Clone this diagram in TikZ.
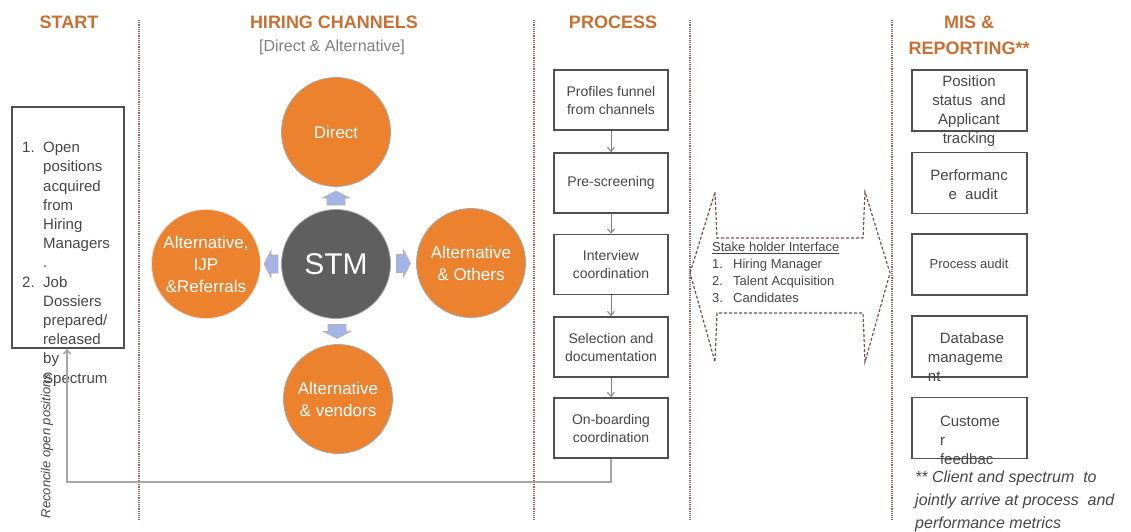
\documentclass[tikz,border=0pt]{standalone}
\usepackage{fontspec}
\setmainfont{Liberation Sans}
\usetikzlibrary{arrows.meta,calc}
\definecolor{titleorange}{RGB}{200,112,52}
\definecolor{chanorange}{RGB}{236,130,45}
\definecolor{stmgray}{RGB}{95,95,95}
\definecolor{boxgray}{RGB}{80,80,80}
\definecolor{txtgray}{RGB}{70,70,70}
\definecolor{sepred}{RGB}{150,100,100}
\definecolor{arrblue}{RGB}{165,180,230}

\begin{document}
\begin{tikzpicture}[x=1pt,y=-1pt,>=latex,
 title/.style={font=\fontsize{18}{21}\selectfont\bfseries,text=titleorange},
 sep/.style={sepred,densely dotted,line width=1.2pt},
 procbox/.style={draw=boxgray,line width=1.8pt,minimum width=114pt,minimum height=60pt,align=center,text=txtgray,font=\fontsize{14}{18}\selectfont},
 misbox/.style={draw=boxgray,line width=1.8pt,minimum width=115pt,minimum height=61pt},
 mistext/.style={align=center,text=txtgray,font=\fontsize{15}{19}\selectfont},
 channel/.style={circle,fill=chanorange,draw=gray!70,line width=0.8pt,minimum size=109pt,inner sep=0pt,align=center,text=white,font=\fontsize{17}{22}\selectfont},
 spoke/.pic={\filldraw[fill=arrblue,draw=gray!60,line width=0.6pt] (-7pt,-9pt) -- (0pt,-9pt) -- (0pt,-13.5pt) -- (7pt,0pt) -- (0pt,13.5pt) -- (0pt,9pt) -- (-7pt,9pt) -- cycle;},
 flow/.style={-{Straight Barb[length=4pt,width=7pt]},gray,line width=1pt},
 stakeline/.style={sepred!80!black,dash pattern=on 3pt off 2pt,line width=1.2pt}]
 \useasboundingbox (0,0) rectangle (1131,532);
 \foreach \sx in {139,534,690,892} \draw[sep] (\sx,20) -- (\sx,520);

 \node[title] (tstart) at (69,22) {START};
 \node[title] (tchan) at (334,22) {HIRING CHANNELS};
 \node[font=\fontsize{16}{18}\selectfont,text=gray] (tchansub) at (332,47) {[Direct \& Alternative]};
 \node[title] (tproc) at (613,22) {PROCESS};
 \node[title,align=center,font=\fontsize{18}{26}\selectfont\bfseries] (tmis) at (969,35) {MIS \&\\REPORTING**};

 \node[draw=boxgray,line width=1.8pt,minimum width=112pt,minimum height=241pt] (startbox) at (68,227.5) {};
 \node[anchor=north west,align=left,inner sep=0pt,text=txtgray,font=\fontsize{15}{19.2}\selectfont] (starttxt) at (22,142) {\makebox[21pt][l]{1.}Open\\ \hspace*{21pt}positions\\ \hspace*{21pt}acquired\\ \hspace*{21pt}from\\ \hspace*{21pt}Hiring\\ \hspace*{21pt}Managers\\ \hspace*{21pt}.\\ \makebox[21pt][l]{2.}Job\\ \hspace*{21pt}Dossiers\\ \hspace*{21pt}prepared/\\ \hspace*{21pt}released\\ \hspace*{21pt}by\\ \hspace*{21pt}Spectrum};
 \node[rotate=90,font=\fontsize{13}{15}\selectfont\itshape,text=txtgray] (reconcile) at (47,446) {Reconcile open positions};

 \node[channel,fill=stmgray,font=\fontsize{30}{32}\selectfont] (stm) at (336,264) {STM};
 \node[channel] (direct) at (336,132) {Direct};
 \node[channel,draw=gray!25] (ijp) at (206,264) {Alternative,\\IJP\\\&Referrals};
 \node[channel] (others) at (471,263) {Alternative\\\& Others};
 \node[channel] (vendors) at (338,399) {Alternative\\\& vendors};
 \pic[rotate=90] at ($(stm)!0.5!(direct)$) {spoke};
 \pic[rotate=180] at ($(stm)!0.5!(ijp)$) {spoke};
 \pic at ($(stm)!0.5!(others)$) {spoke};
 \pic[rotate=-90] at ($(stm)!0.5!(vendors)$) {spoke};

 \node[procbox] (funnel) at (611,100) {Profiles funnel\\from channels};
 \node[procbox] (screen) at (611,183) {Pre-screening};
 \node[procbox] (interview) at (611,264.5) {Interview\\coordination};
 \node[procbox] (selection) at (611,347) {Selection and\\documentation};
 \node[procbox] (onboard) at (611,428) {On-boarding\\coordination};
 \foreach \a/\b in {funnel/screen,screen/interview,interview/selection,selection/onboard}
  \draw[flow] (\a) -- (\b);

 \coordinate (retcorner) at (67,482);
 \draw[gray!70,line width=1.5pt,-{Straight Barb[length=4pt,width=7pt]}] (onboard.south) |- (retcorner) -- (startbox.south -| retcorner);

 \draw[stakeline] (690,273) -- (715,192) -- (717,238) -- (863,238) -- (865,192) -- (890,273) -- (865,362) -- (863,313) -- (717,313) -- (715,362) -- cycle;
 \node[anchor=north west,align=left,inner sep=0pt,text=txtgray,font=\fontsize{13}{17}\selectfont] (staketxt) at (712,242) {\underline{Stake holder Interface}\\ \makebox[21pt][l]{1.}Hiring Manager\\ \makebox[21pt][l]{2.}Talent Acquisition\\ \makebox[21pt][l]{3.}Candidates};

 \node[misbox] (mis1) at (969.5,100.5) {};
 \node[misbox] (mis2) at (969.5,183) {};
 \node[misbox] (mis3) at (969.5,264.5) {};
 \node[misbox] (mis4) at (969.5,346.5) {};
 \node[misbox] (mis5) at (969.5,428) {};
 \node[mistext] (mis1txt) at (969,111) {Position\\status~ and\\Applicant\\tracking};
 \node[mistext] (mis2txt) at (969,185) {Performanc\\~~e~ audit};
 \node[mistext,font=\fontsize{13}{16}\selectfont] (mis3txt) at (969,264) {Process audit};
 \node[mistext,align=left] (mis4txt) at (966,357) {\hspace*{12pt}Database\\manageme\\nt};
 \node[mistext,align=left] (mis5txt) at (970,440) {Custome\\r\\feedbac};
 \node[anchor=north west,align=left,inner sep=0pt,text=txtgray,font=\fontsize{16}{23}\selectfont\itshape] (note) at (915,471) {** Client and spectrum~ to\\jointly arrive at process~ and\\performance metrics};
\end{tikzpicture}
\end{document}
